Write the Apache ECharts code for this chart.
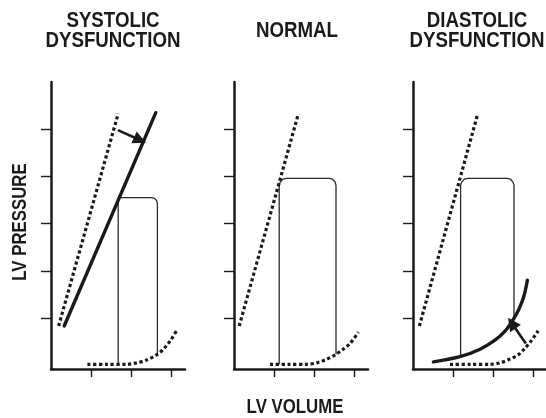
<!DOCTYPE html>
<html><head><meta charset="utf-8">
<script src="https://cdn.jsdelivr.net/npm/echarts@6/dist/echarts.min.js"></script>
<style>html,body{margin:0;padding:0;background:#fff}#c{width:546px;height:418px}</style>
</head><body><div id="c"></div>
<script>
// ---- data (axis units: x = LV volume, y = LV pressure) ----
const panelTitles = ['SYSTOLIC\nDYSFUNCTION', 'NORMAL', 'DIASTOLIC\nDYSFUNCTION'];
const xAxisName = 'LV VOLUME';
const yAxisName = 'LV PRESSURE';
const xTicks = [1, 2, 3];
const yTicks = [1, 2, 3, 4, 5];

// Systolic dysfunction
const sysEspvrNormal = [[0.19, 0.83], [1.68, 5.33]];
const sysEspvrDepressed = [[0.33, 0.83], [2.62, 5.35]];
const sysLoop = [[1.68, 0.02], [1.68, 3.55], [2.51, 3.55], [2.58, 3.54], [2.64, 3.49], [2.66, 3.43], [2.66, 0.23]];
const sysEdpvr = [[0.91, 0.02], [1.38, 0.02], [1.89, 0.02], [2.14, 0.05], [2.39, 0.11], [2.64, 0.22], [2.81, 0.34], [2.975, 0.51], [3.14, 0.73]];
const sysArrow = [[1.67, 4.98], [2.225, 4.77]];

// Normal
const norEspvr = [[0.13, 0.83], [1.61, 5.33]];
const norLoop = [[1.13, 0.02], [1.13, 3.81], [1.155, 3.88], [1.22, 3.94], [1.31, 3.96], [2.375, 3.96], [2.46, 3.94], [2.53, 3.88], [2.55, 3.81], [2.55, 0.23]];
const norEdpvr = [[0.9, 0.02], [1.36, 0.02], [1.82, 0.02], [2.07, 0.05], [2.32, 0.13], [2.53, 0.22], [2.73, 0.34], [2.9, 0.46], [3.11, 0.70]];

// Diastolic dysfunction
const diaEspvr = [[0.16, 0.83], [1.62, 5.33]];
const diaLoop = [[1.19, 0.19], [1.19, 3.81], [1.215, 3.88], [1.28, 3.94], [1.37, 3.96], [2.35, 3.96], [2.44, 3.94], [2.50, 3.88], [2.525, 3.81], [2.525, 0.99]];
const diaEdpvrNormal = [[0.925, 0.02], [1.43, 0.02], [1.925, 0.02], [2.175, 0.05], [2.425, 0.13], [2.63, 0.22], [2.8, 0.36], [2.95, 0.51], [3.13, 0.73]];
const diaEdpvrStiff = [[0.51, 0.07], [1.175, 0.18], [1.675, 0.34], [2.05, 0.53], [2.3, 0.72], [2.5, 0.96], [2.65, 1.19], [2.775, 1.47], [2.86, 1.80]];
const diaArrow = [[2.82, 0.46], [2.47, 0.89]];

// ---- chart ----
const INK = '#1a1a1a';
const FONT = "'Liberation Sans', Arial, sans-serif";
const lefts = [51, 234, 413];
const chart = echarts.init(document.getElementById('c'), null, {renderer: 'canvas'});

const grids = lefts.map(l => ({left: l, top: 82, width: 134, height: 287, containLabel: false, outerBoundsMode: 'none'}));
const xAxes = lefts.map((l, i) => ({
  gridIndex: i, type: 'value', min: 0, max: 3.35,
  axisLine: {show: true, onZero: false, lineStyle: {color: INK, width: 2.5}},
  axisTick: {show: true, customValues: xTicks, length: 8, lineStyle: {color: INK, width: 1.4}},
  axisLabel: {show: false}, splitLine: {show: false}
}));
const yAxes = lefts.map((l, i) => ({
  gridIndex: i, type: 'value', min: -0.08, max: 6,
  axisLine: {show: true, onZero: false, lineStyle: {color: INK, width: 2.5}},
  axisTick: {show: true, customValues: yTicks, length: 10, lineStyle: {color: INK, width: 1.4}},
  axisLabel: {show: false}, splitLine: {show: false}
}));

function dotted(i, data, smooth) {
  return {type: 'line', xAxisIndex: i, yAxisIndex: i, data, smooth: smooth || false, symbol: 'none',
    lineStyle: {color: INK, width: 3.2, type: [3.2, 2.6], cap: 'butt'}, z: 3};
}
function solid(i, data, smooth) {
  return {type: 'line', xAxisIndex: i, yAxisIndex: i, data, smooth: smooth || false, symbol: 'none',
    lineStyle: {color: INK, width: 3.4, cap: 'round'}, z: 4};
}
function thin(i, data) {
  return {type: 'line', xAxisIndex: i, yAxisIndex: i, data, symbol: 'none',
    lineStyle: {color: '#2a2a2a', width: 1.3}, z: 2};
}
function arrow(i, pts) {
  return {type: 'lines', coordinateSystem: 'cartesian2d', xAxisIndex: i, yAxisIndex: i,
    symbol: ['none', 'triangle'], symbolSize: [11, 13],
    lineStyle: {color: INK, width: 2.6, curveness: 0, opacity: 1},
    itemStyle: {color: INK},
    data: [{coords: pts}], z: 5};
}

const series = [
  dotted(0, sysEspvrNormal), solid(0, sysEspvrDepressed), thin(0, sysLoop), dotted(0, sysEdpvr, 0.3), arrow(0, sysArrow),
  dotted(1, norEspvr), thin(1, norLoop), dotted(1, norEdpvr, 0.3),
  dotted(2, diaEspvr), thin(2, diaLoop), dotted(2, diaEdpvrNormal, 0.3), solid(2, diaEdpvrStiff, 0.3), arrow(2, diaArrow)
];

const titleCenters = [113, 297, 477];
const graphic = panelTitles.map((t, i) => ({
  type: 'text', x: titleCenters[i], y: 31, scaleX: 0.85,
  style: {text: t, fill: INK, font: 'bold 22px ' + FONT, align: 'center', verticalAlign: 'middle', lineHeight: 20}
})).concat([
  {type: 'text', x: 20, y: 222, rotation: Math.PI / 2, scaleX: 0.8,
   style: {text: yAxisName, fill: INK, font: 'bold 21px ' + FONT, align: 'center', verticalAlign: 'middle'}},
  {type: 'text', x: 295, y: 407, scaleX: 0.8,
   style: {text: xAxisName, fill: INK, font: 'bold 21px ' + FONT, align: 'center', verticalAlign: 'middle'}}
]);

chart.setOption({
  animation: false,
  backgroundColor: '#fff',
  grid: grids, xAxis: xAxes, yAxis: yAxes,
  series, graphic
});
</script></body></html>
